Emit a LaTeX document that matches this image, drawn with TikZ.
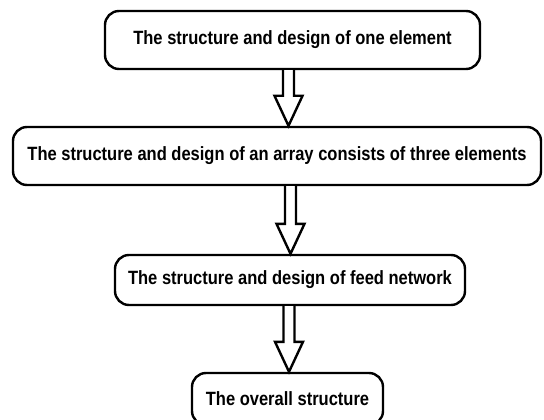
\documentclass[tikz,border=0pt]{standalone}
\usepackage{fontspec}
\setmainfont{Liberation Sans}[FakeStretch=0.86]
\usetikzlibrary{calc}

\tikzset{
  stage/.style={draw=black, line width=2.4pt, rounded corners=14pt, fill=white,
    font=\bfseries\fontsize{19.2}{23}\selectfont, inner sep=0pt, align=center},
  hollow/.style={draw=black, line width=2.4pt, fill=white, line join=miter}
}

% hollow block arrow from the bottom of #1 to the top of #2 along the vertical through #3
\newcommand{\blockarrow}[3]{%
  \draw[hollow]
    ($(#3 |- #1.south)+(-5.5,0)$) --
    ($(#3 |- #2.north)+(-5.5,-30)$) --
    ($(#3 |- #2.north)+(-14,-30)$) --
    (#3 |- #2.north) --
    ($(#3 |- #2.north)+(14,-30)$) --
    ($(#3 |- #2.north)+(5.5,-30)$) --
    ($(#3 |- #1.south)+(5.5,0)$);
}

\begin{document}
\begin{tikzpicture}[x=1pt, y=-1pt]
  \useasboundingbox (0,0) rectangle (544,420);
  \clip (0,0) rectangle (544,420);

  \node[stage, minimum width=375pt, minimum height=58pt] (b1) at (292.5,40)
    {The structure and design of one element};
  \node[stage, minimum width=528pt, minimum height=58pt] (b2) at (277,156)
    {The structure and design of an array consists of three elements};
  \node[stage, minimum width=350pt, minimum height=50pt] (b3) at (290,280)
    {The structure and design of feed network};
  \node[stage, minimum width=191pt, minimum height=52pt] (b4) at (287.5,399)
    {The overall structure};

  \coordinate (x1) at (288.5,0);
  \coordinate (x2) at (290.5,0);
  \coordinate (x3) at (289,0);

  \blockarrow{b1}{b2}{x1}
  \blockarrow{b2}{b3}{x2}
  \blockarrow{b3}{b4}{x3}
\end{tikzpicture}
\end{document}
